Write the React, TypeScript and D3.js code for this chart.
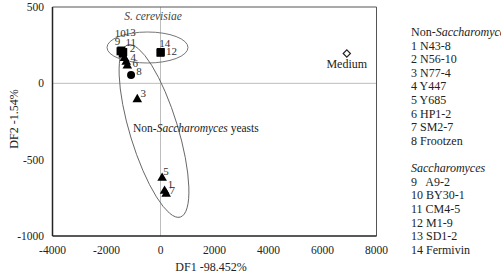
import React from 'react';
import * as d3 from 'd3';

// non-Saccharomyces strains (1-8), value = [DF1, DF2]
const nonSaccIds = [1, 2, 3, 4, 5, 6, 7, 8];
const nonSaccDF1 = [150, -1333, -860, -1270, 60, -1230, 210, -1090];
const nonSaccDF2 = [-705, 164, -105, 140, -620, 115, -725, 55];
const nonSaccNames = ['N43-8', 'N56-10', 'N77-4', 'Y447', 'Y685', 'HP1-2', 'SM2-7', 'Frootzen'];

// Saccharomyces strains (9-14)
const saccIds = [9, 10, 11, 12, 13, 14];
const saccDF1 = [-1480, -1450, -1400, 0, -1380, 10];
const saccDF2 = [210, 215, 195, 200, 205, 205];
const saccNames = ['A9-2', 'BY30-1', 'CM4-5', 'M1-9', 'SD1-2', 'Fermivin'];

const mediumDF1 = 6900;
const mediumDF2 = 195;

const xTicks = [-4000, -2000, 0, 2000, 4000, 6000, 8000];
const yTicks = [-1000, -500, 0, 500];

// label offsets (px) for point numbers
const labelOffset: Record<number, [number, number]> = {
  1: [6, -3], 2: [8, -6], 3: [6, -2], 4: [7, -1], 5: [4, -3], 6: [8, 1.5], 7: [6, 0], 8: [8, 0],
  9: [-3, -6], 10: [-1, -14], 11: [8, -8], 12: [11, 2], 13: [7, -16], 14: [4, -5],
};

const W = 501;
const H = 271;
const font = 'Liberation Serif, DejaVu Serif, serif';

export default function App() {
  const x = d3.scaleLinear().domain([-4000, 8000]).range([52.5, 376.5]);
  const y = d3.scaleLinear().domain([-1000, 500]).range([236, 7]);

  const tri = d3.symbol().type(d3.symbolTriangle).size(40)() as string;
  const sq = d3.symbol().type(d3.symbolSquare).size(64)() as string;
  const circ = d3.symbol().type(d3.symbolCircle).size(50)() as string;
  const diamond = d3.symbol().type(d3.symbolSquare).size(26)() as string;

  const nonSacc = nonSaccIds.map((id, i) => ({ id, x: nonSaccDF1[i], y: nonSaccDF2[i] }));
  const sacc = saccIds.map((id, i) => ({ id, x: saccDF1[i], y: saccDF2[i] }));

  const legendLines: { y: number; node: React.ReactNode }[] = [];
  const lx = 411;
  let ly = 36;
  legendLines.push({ y: ly, node: <>Non-<tspan fontStyle="italic">Saccharomyces</tspan></> });
  nonSaccIds.forEach((id, i) => {
    ly += 13.6;
    legendLines.push({ y: ly, node: `${id} ${nonSaccNames[i]}` });
  });
  ly += 27.4;
  legendLines.push({ y: ly, node: <tspan fontStyle="italic">Saccharomyces</tspan> });
  saccIds.forEach((id, i) => {
    ly += 13.6;
    legendLines.push({ y: ly, node: id === 9 ? `${id}\u00a0\u00a0 ${saccNames[i]}` : `${id} ${saccNames[i]}` });
  });

  const ts = { fontFamily: font };

  return (
    <div style={{ position: 'absolute', left: 0, top: 0, fontFamily: font }}>
      <svg width={W} height={H} style={{ display: 'block', background: '#fff', fontFamily: font }}>
        {/* zero gridlines */}
        <line x1={x(-4000)} x2={x(8000)} y1={y(0)} y2={y(0)} stroke="#bdbdbd" strokeWidth={1} />
        <line x1={x(0)} x2={x(0)} y1={y(500)} y2={y(-1000)} stroke="#bdbdbd" strokeWidth={1} />
        {/* frame */}
        <line x1={x(-4000)} x2={x(8000)} y1={y(500)} y2={y(500)} stroke="#555" strokeWidth={1} />
        <line x1={x(8000)} x2={x(8000)} y1={y(500)} y2={y(-1000)} stroke="#555" strokeWidth={1} />
        <line x1={x(-4000)} x2={x(-4000)} y1={y(500)} y2={y(-1000)} stroke="#222" strokeWidth={1.5} />
        <line x1={x(-4000)} x2={x(8000)} y1={y(-1000)} y2={y(-1000)} stroke="#222" strokeWidth={1.5} />

        {yTicks.map(t => (
          <text key={t} x={44} y={y(t) + 4} textAnchor="end" fontSize={11.5} fill="#222" style={ts}>{t}</text>
        ))}
        {xTicks.map(t => (
          <text key={t} x={x(t)} y={254} textAnchor="middle" fontSize={11.5} fill="#222" style={ts}>{t}</text>
        ))}

        <text x={211} y={271} textAnchor="middle" fontSize={12} fill="#222" style={ts}>DF1 -98.452%</text>
        <text transform={`translate(18,${119}) rotate(-90)`} textAnchor="middle" fontSize={12} fill="#222" style={ts}>DF2 -1.54%</text>

        {/* group ellipses */}
        <ellipse cx={147.5} cy={47.5} rx={40.5} ry={15.5} fill="none" stroke="#666" strokeWidth={0.9} />
        <ellipse cx={154} cy={131} rx={90} ry={24} fill="none" stroke="#666" strokeWidth={0.9}
          transform={`rotate(73,154,131)`} />
        <text x={153} y={20} textAnchor="middle" fontSize={11.5} fontStyle="italic" fill="#444" style={ts}>S. cerevisiae</text>
        <text x={133} y={132} fontSize={11.5} fill="#222" style={ts}>Non-<tspan fontStyle="italic">Saccharomyces</tspan> yeasts</text>

        {/* points */}
        {nonSacc.map(d => (
          <path key={d.id} d={d.id === 8 ? circ : tri} transform={`translate(${x(d.x)},${y(d.y)})`} fill="#000" />
        ))}
        {sacc.map(d => (
          <path key={d.id} d={sq} transform={`translate(${x(d.x)},${y(d.y)})`} fill="#000" />
        ))}
        <path d={diamond} transform={`translate(${x(mediumDF1)},${y(mediumDF2)}) rotate(45)`} fill="#fff" stroke="#222" strokeWidth={1.2} />
        <text x={x(mediumDF1)} y={68} textAnchor="middle" fontSize={12} fill="#222" style={ts}>Medium</text>

        {[...nonSacc, ...sacc].map(d => (
          <text key={'l' + d.id} x={x(d.x) + labelOffset[d.id][0]} y={y(d.y) + labelOffset[d.id][1]}
            textAnchor="middle" fontSize={11} fill="#333" style={ts}>{d.id}</text>
        ))}

        {/* legend */}
        {legendLines.map((l, i) => (
          <text key={i} x={lx} y={l.y} fontSize={12} fill="#222" xmlSpace="preserve" style={ts}>{l.node}</text>
        ))}
      </svg>
    </div>
  );
}
